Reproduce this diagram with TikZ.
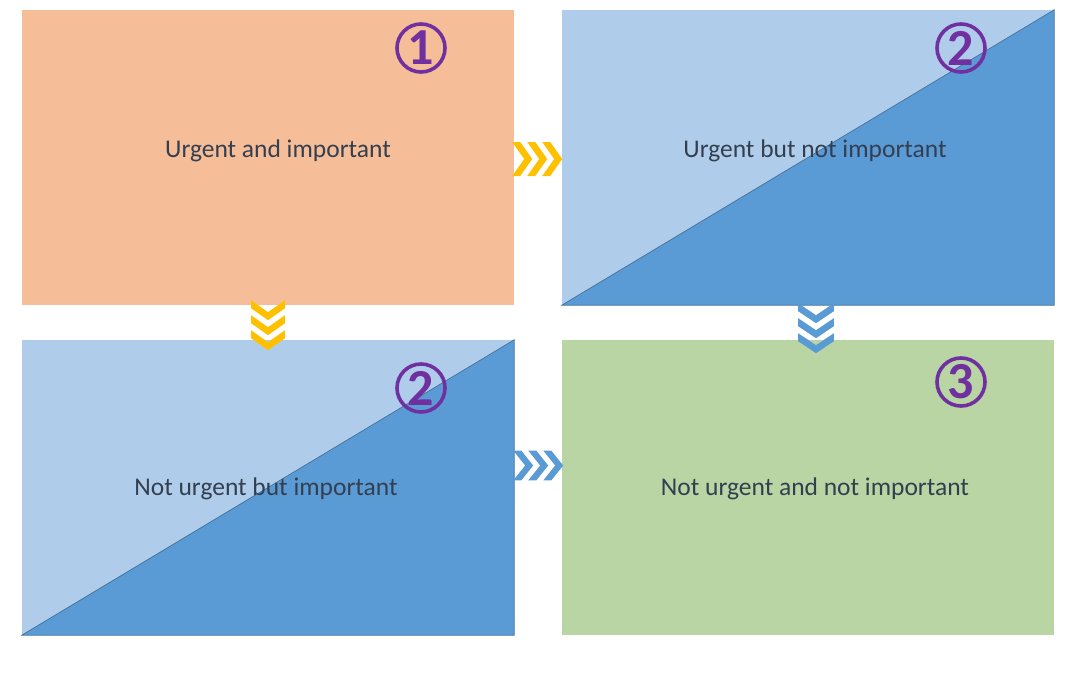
\documentclass[tikz,border=0pt]{standalone}
\usepackage{fontspec}
\setmainfont{Carlito}
\usetikzlibrary{calc}
\definecolor{peach}{HTML}{F6BE98}
\definecolor{lightblue}{HTML}{AFCDEA}
\definecolor{midblue}{HTML}{5B9BD5}
\definecolor{edgeblue}{HTML}{41719C}
\definecolor{sage}{HTML}{B8D5A3}
\definecolor{gold}{HTML}{FFC000}
\definecolor{violet}{HTML}{7030A0}
\definecolor{ink}{HTML}{333F50}
\tikzset{
  quad/.style={rectangle, inner sep=0pt, minimum width=492pt, minimum height=295pt},
  caption/.style={text=ink, font=\fontsize{25.5}{30}\selectfont, inner sep=0pt},
  ring/.style={circle, draw=violet, line width=3.6pt, minimum size=48pt, inner sep=0pt,
    text=violet, font=\fontsize{52}{52}\bfseries\selectfont},
  chevrons/.pic={
    \foreach \k in {0,15,30}
      \fill (\k,-17) -- (\k+8,-17) -- (\k+20,0) -- (\k+8,17) -- (\k,17) -- (\k+12,0) -- cycle;
  }
}
\begin{document}
\begin{tikzpicture}[x=1pt, y=-1pt]
  \useasboundingbox (0,0) rectangle (1083,674);
  \fill[white] (0,0) rectangle (1083,674);

  % four quadrants
  \node[quad, fill=peach]     (q1) at (268,157.5) {};
  \node[quad, fill=lightblue] (q2) at (808,157.5) {};
  \node[quad, fill=lightblue] (q3) at (268,487.5) {};
  \node[quad, fill=sage]      (q4) at (808,487.5) {};

  % darker lower-right halves of the split quadrants
  \foreach \q in {q2,q3} {
    \fill[midblue] (\q.south west) -- (\q.north east) -- (\q.south east) -- cycle;
    \draw[edgeblue, line width=0.7pt, line join=miter] (\q.south west) -- (\q.north east) -- (\q.south east) -- cycle;
  }

  % captions
  \node[caption] (t1) at (278,151) {Urgent and important};
  \node[caption] (t2) at (815,151) {Urgent but not important};
  \node[caption] (t3) at (266,489) {Not urgent but important};
  \node[caption] (t4) at (815,489) {Not urgent and not important};

  % priority badges
  \node[ring] (n1) at (421,48)  {1};
  \node[ring] (n2) at (961,48)  {2};
  \node[ring] (n3) at (421,388) {2};
  \node[ring] (n4) at (961,382) {3};

  % chevron links between quadrants
  \coordinate (c12) at ($(q1.east)+(-2,1.5)$);
  \coordinate (c13) at ($(q1.south)+(0,-5)$);
  \coordinate (c24) at ($(q2.south)+(8,-2)$);
  \coordinate (c34) at ($(q3.east)+(-1,-22)$);
  \pic[gold] at (c12) {chevrons};
  \pic[gold, rotate=-90] at (c13) {chevrons};
  \pic[midblue, rotate=-90, yscale=1.05] at (c24) {chevrons};
  \pic[midblue, yscale=0.88] at (c34) {chevrons};
\end{tikzpicture}
\end{document}
